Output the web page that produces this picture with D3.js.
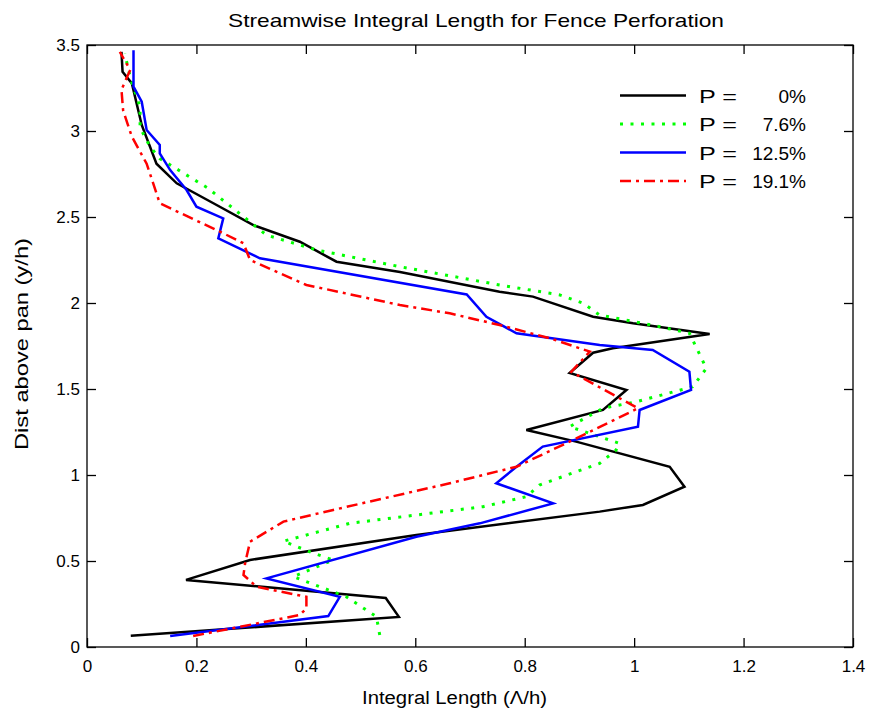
<!DOCTYPE html>
<html><head><meta charset="utf-8">
<script src="https://cdn.jsdelivr.net/npm/d3@7"></script>
<style>
body{margin:0;background:#fff;}
svg text{font-family:"Liberation Sans",Arial,sans-serif;fill:#000;}
</style></head>
<body><svg id="c" width="870" height="717"></svg>
<script>
const xTicks=[0,0.2,0.4,0.6,0.8,1,1.2,1.4];
const yTicks=[0,0.5,1,1.5,2,2.5,3,3.5];
const seriesLabelsP=["0%","7.6%","12.5%","19.1%"];
const p0=[[0.08,0.065],[0.57,0.175],[0.546,0.285],[0.181,0.39],[0.298,0.506],[0.602,0.651],[0.937,0.787],[1.016,0.826],[1.092,0.932],[1.065,1.048],[0.894,1.194],[0.803,1.262],[0.943,1.378],[0.986,1.494],[0.882,1.593],[0.925,1.711],[0.961,1.737],[1.138,1.82],[0.998,1.882],[0.925,1.92],[0.815,2.037],[0.754,2.066],[0.572,2.18],[0.456,2.24],[0.389,2.356],[0.304,2.453],[0.231,2.58],[0.164,2.696],[0.127,2.81],[0.1,3.035],[0.082,3.277],[0.065,3.345],[0.063,3.46]];
const p76=[[0.535,0.07],[0.529,0.176],[0.474,0.292],[0.377,0.409],[0.45,0.506],[0.41,0.55],[0.359,0.615],[0.48,0.719],[0.724,0.816],[0.803,0.874],[0.827,0.942],[0.937,1.068],[0.967,1.145],[0.973,1.184],[0.882,1.281],[0.943,1.388],[1.004,1.426],[1.107,1.513],[1.132,1.62],[1.113,1.746],[1.101,1.824],[1.047,1.862],[0.937,1.93],[0.906,2.0],[0.864,2.047],[0.754,2.105],[0.572,2.211],[0.42,2.308],[0.328,2.395],[0.22,2.67],[0.133,2.84],[0.115,2.91],[0.097,3.02],[0.097,3.14],[0.08,3.3],[0.069,3.45]];
const p125=[[0.152,0.064],[0.441,0.18],[0.462,0.292],[0.328,0.399],[0.602,0.641],[0.718,0.719],[0.852,0.835],[0.748,0.952],[0.785,1.048],[0.833,1.165],[1.007,1.281],[1.01,1.378],[1.104,1.494],[1.101,1.6],[1.034,1.727],[0.937,1.756],[0.785,1.824],[0.73,1.92],[0.694,2.05],[0.316,2.26],[0.24,2.376],[0.249,2.492],[0.2,2.56],[0.182,2.657],[0.152,2.773],[0.133,2.87],[0.133,2.919],[0.109,3.006],[0.1,3.17],[0.085,3.258],[0.085,3.47]];
const p191=[[0.194,0.064],[0.389,0.186],[0.401,0.225],[0.401,0.292],[0.31,0.35],[0.286,0.419],[0.289,0.487],[0.298,0.612],[0.359,0.729],[0.45,0.797],[0.663,0.952],[0.785,1.048],[0.882,1.194],[1.007,1.388],[0.885,1.6],[0.919,1.717],[0.846,1.795],[0.754,1.872],[0.663,1.94],[0.572,1.988],[0.401,2.105],[0.298,2.25],[0.286,2.347],[0.243,2.415],[0.206,2.47],[0.133,2.58],[0.109,2.81],[0.082,2.967],[0.066,3.12],[0.063,3.24],[0.079,3.355],[0.06,3.46]];

const svg=d3.select("#c");
const L=87,R=853,T=45,B=647;
const x=d3.scaleLinear().domain([0,1.4]).range([L,R]);
const y=d3.scaleLinear().domain([0,3.5]).range([B,T]);
const fmt=d=>String(d);

const styles=[
 {data:p0,color:"#000000",dash:null,w:2.5},
 {data:p76,color:"#00ff00",dash:"3,7.5",w:3},
 {data:p125,color:"#0000ff",dash:null,w:2.5},
 {data:p191,color:"#ff0000",dash:"11,5,3,5",w:2.5}
];

const gx=svg.append("g").attr("transform",`translate(0,${B})`).call(d3.axisBottom(x).tickValues(xTicks).tickFormat(fmt).tickSizeInner(-9).tickSizeOuter(0).tickPadding(13));
const gxt=svg.append("g").attr("transform",`translate(0,${T})`).call(d3.axisTop(x).tickValues(xTicks).tickFormat("").tickSizeInner(-9).tickSizeOuter(0));
const gy=svg.append("g").attr("transform",`translate(${L},0)`).call(d3.axisLeft(y).tickValues(yTicks).tickFormat(fmt).tickSizeInner(-9).tickSizeOuter(0).tickPadding(7));
const gyr=svg.append("g").attr("transform",`translate(${R},0)`).call(d3.axisRight(y).tickValues(yTicks).tickFormat("").tickSizeInner(-9).tickSizeOuter(0));
[gx,gxt,gy,gyr].forEach(g=>{g.select(".domain").remove();g.selectAll("line").attr("stroke","#000").attr("stroke-width",1.3);g.selectAll("text").attr("font-size",17).attr("font-family","Liberation Sans, Arial, sans-serif").attr("fill","#000");});

const line=d3.line().x(d=>x(d[0])).y(d=>y(d[1]));
const plot=svg.append("g");
styles.forEach(s=>{
  plot.append("path").attr("d",line(s.data)).attr("fill","none").attr("stroke",s.color).attr("stroke-width",s.w).attr("stroke-linejoin","miter").attr("stroke-dasharray",s.dash);
});

svg.append("rect").attr("x",L).attr("y",T).attr("width",R-L).attr("height",B-T).attr("fill","none").attr("stroke","#000").attr("stroke-width",1.3);

const ly=[95.5,124,152.5,181];
styles.forEach((s,i)=>{
  svg.append("line").attr("x1",620).attr("x2",686).attr("y1",ly[i]).attr("y2",ly[i]).attr("stroke",s.color).attr("stroke-width",s.w).attr("stroke-dasharray",s.dash);
  svg.append("text").attr("x",699).attr("y",ly[i]+7).attr("font-size",19).attr("textLength",38).attr("lengthAdjust","spacingAndGlyphs").text("P =");
  svg.append("text").attr("x",806).attr("y",ly[i]+7).attr("font-size",19).attr("text-anchor","end").text(seriesLabelsP[i]);
});

svg.append("text").attr("x",228).attr("y",27).attr("font-size",19).attr("textLength",496).attr("lengthAdjust","spacingAndGlyphs").text("Streamwise Integral Length for Fence Perforation");
svg.append("text").attr("x",362).attr("y",704).attr("font-size",18).attr("textLength",185).attr("lengthAdjust","spacingAndGlyphs").text("Integral Length (\u039B/h)");
svg.append("text").attr("transform","translate(28,450) rotate(-90)").attr("font-size",19).attr("textLength",212).attr("lengthAdjust","spacingAndGlyphs").text("Dist above pan  (y/h)");
</script></body></html>
